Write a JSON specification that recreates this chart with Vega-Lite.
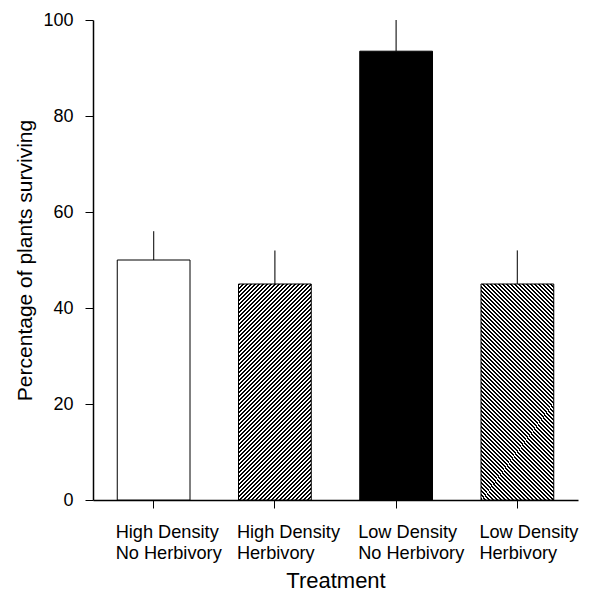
{
  "$schema": "https://vega.github.io/schema/vega-lite/v6.json",
  "width": 485,
  "height": 480,
  "autosize": "none",
  "padding": {"left": 93, "top": 20, "right": 11, "bottom": 95},
  "background": "white",
  "config": {
    "view": {"stroke": null},
    "font": "Liberation Sans",
    "axis": {
      "domainColor": "black",
      "domainWidth": 1.5,
      "tickColor": "black",
      "tickWidth": 1,
      "tickSize": 8,
      "grid": false,
      "labelColor": "black",
      "titleColor": "black",
      "labelFontSize": 18,
      "titleFontSize": 21,
      "titleFontWeight": "normal",
      "labelFont": "Liberation Sans",
      "titleFont": "Liberation Sans"
    }
  },
  "data": {
    "values": [
      {"treatment": "High Density\nNo Herbivory", "survival": 50, "upper": 56, "pattern": "open"},
      {"treatment": "High Density\nHerbivory", "survival": 45, "upper": 52, "pattern": "hatch_fwd"},
      {"treatment": "Low Density\nNo Herbivory", "survival": 93.5, "upper": 100, "pattern": "solid"},
      {"treatment": "Low Density\nHerbivory", "survival": 45, "upper": 52, "pattern": "hatch_back"}
    ]
  },
  "encoding": {
    "x": {
      "field": "treatment",
      "type": "nominal",
      "title": "Treatment",
      "scale": {
        "domain": ["High Density\nNo Herbivory", "High Density\nHerbivory", "Low Density\nNo Herbivory", "Low Density\nHerbivory"],
        "paddingInner": 0.4,
        "paddingOuter": 0.2
      },
      "axis": {
        "labelAngle": 0,
        "labelExpr": "split(datum.value, '\\n')",
        "labelAlign": "left",
        "labelOffset": -38,
        "labelFontSize": 18.2,
        "labelPadding": 15,
        "labelLineHeight": 21,
        "titleFontSize": 22,
        "titlePadding": 9
      }
    },
    "y": {
      "field": "survival",
      "type": "quantitative",
      "title": "Percentage of plants surviving",
      "scale": {"domain": [0, 100], "nice": false},
      "axis": {"values": [0, 20, 40, 60, 80, 100], "labelPadding": 12, "titlePadding": 7}
    }
  },
  "layer": [
    {
      "mark": {"type": "rule", "color": "#333333", "strokeWidth": 1.3},
      "encoding": {"y2": {"field": "upper"}}
    },
    {
      "transform": [{"filter": "datum.pattern == 'open'"}],
      "mark": {"type": "bar", "fill": "white", "stroke": "black", "strokeWidth": 1}
    },
    {
      "transform": [{"filter": "datum.pattern == 'solid'"}],
      "mark": {"type": "bar", "fill": "black", "stroke": "black", "strokeWidth": 1}
    },
    {
      "transform": [{"filter": "datum.pattern == 'hatch_fwd'"}],
      "mark": {
        "type": "bar",
        "stroke": "black",
        "strokeWidth": 1,
        "fill": {
          "gradient": "linear",
          "x1": 0, "y1": 0, "x2": 0.5602, "y2": 1.6632,
          "stops": [
{"offset":0,"color":"#000"},{"offset":0.005,"color":"#000"},{"offset":0.005,"color":"#fff"},{"offset":0.01,"color":"#fff"},
{"offset":0.01,"color":"#000"},{"offset":0.015,"color":"#000"},{"offset":0.015,"color":"#fff"},{"offset":0.02,"color":"#fff"},
{"offset":0.02,"color":"#000"},{"offset":0.025,"color":"#000"},{"offset":0.025,"color":"#fff"},{"offset":0.03,"color":"#fff"},
{"offset":0.03,"color":"#000"},{"offset":0.035,"color":"#000"},{"offset":0.035,"color":"#fff"},{"offset":0.04,"color":"#fff"},
{"offset":0.04,"color":"#000"},{"offset":0.045,"color":"#000"},{"offset":0.045,"color":"#fff"},{"offset":0.05,"color":"#fff"},
{"offset":0.05,"color":"#000"},{"offset":0.055,"color":"#000"},{"offset":0.055,"color":"#fff"},{"offset":0.06,"color":"#fff"},
{"offset":0.06,"color":"#000"},{"offset":0.065,"color":"#000"},{"offset":0.065,"color":"#fff"},{"offset":0.07,"color":"#fff"},
{"offset":0.07,"color":"#000"},{"offset":0.075,"color":"#000"},{"offset":0.075,"color":"#fff"},{"offset":0.08,"color":"#fff"},
{"offset":0.08,"color":"#000"},{"offset":0.085,"color":"#000"},{"offset":0.085,"color":"#fff"},{"offset":0.09,"color":"#fff"},
{"offset":0.09,"color":"#000"},{"offset":0.095,"color":"#000"},{"offset":0.095,"color":"#fff"},{"offset":0.1,"color":"#fff"},
{"offset":0.1,"color":"#000"},{"offset":0.105,"color":"#000"},{"offset":0.105,"color":"#fff"},{"offset":0.11,"color":"#fff"},
{"offset":0.11,"color":"#000"},{"offset":0.115,"color":"#000"},{"offset":0.115,"color":"#fff"},{"offset":0.12,"color":"#fff"},
{"offset":0.12,"color":"#000"},{"offset":0.125,"color":"#000"},{"offset":0.125,"color":"#fff"},{"offset":0.13,"color":"#fff"},
{"offset":0.13,"color":"#000"},{"offset":0.135,"color":"#000"},{"offset":0.135,"color":"#fff"},{"offset":0.14,"color":"#fff"},
{"offset":0.14,"color":"#000"},{"offset":0.145,"color":"#000"},{"offset":0.145,"color":"#fff"},{"offset":0.15,"color":"#fff"},
{"offset":0.15,"color":"#000"},{"offset":0.155,"color":"#000"},{"offset":0.155,"color":"#fff"},{"offset":0.16,"color":"#fff"},
{"offset":0.16,"color":"#000"},{"offset":0.165,"color":"#000"},{"offset":0.165,"color":"#fff"},{"offset":0.17,"color":"#fff"},
{"offset":0.17,"color":"#000"},{"offset":0.175,"color":"#000"},{"offset":0.175,"color":"#fff"},{"offset":0.18,"color":"#fff"},
{"offset":0.18,"color":"#000"},{"offset":0.185,"color":"#000"},{"offset":0.185,"color":"#fff"},{"offset":0.19,"color":"#fff"},
{"offset":0.19,"color":"#000"},{"offset":0.195,"color":"#000"},{"offset":0.195,"color":"#fff"},{"offset":0.2,"color":"#fff"},
{"offset":0.2,"color":"#000"},{"offset":0.205,"color":"#000"},{"offset":0.205,"color":"#fff"},{"offset":0.21,"color":"#fff"},
{"offset":0.21,"color":"#000"},{"offset":0.215,"color":"#000"},{"offset":0.215,"color":"#fff"},{"offset":0.22,"color":"#fff"},
{"offset":0.22,"color":"#000"},{"offset":0.225,"color":"#000"},{"offset":0.225,"color":"#fff"},{"offset":0.23,"color":"#fff"},
{"offset":0.23,"color":"#000"},{"offset":0.235,"color":"#000"},{"offset":0.235,"color":"#fff"},{"offset":0.24,"color":"#fff"},
{"offset":0.24,"color":"#000"},{"offset":0.245,"color":"#000"},{"offset":0.245,"color":"#fff"},{"offset":0.25,"color":"#fff"},
{"offset":0.25,"color":"#000"},{"offset":0.255,"color":"#000"},{"offset":0.255,"color":"#fff"},{"offset":0.26,"color":"#fff"},
{"offset":0.26,"color":"#000"},{"offset":0.265,"color":"#000"},{"offset":0.265,"color":"#fff"},{"offset":0.27,"color":"#fff"},
{"offset":0.27,"color":"#000"},{"offset":0.275,"color":"#000"},{"offset":0.275,"color":"#fff"},{"offset":0.28,"color":"#fff"},
{"offset":0.28,"color":"#000"},{"offset":0.285,"color":"#000"},{"offset":0.285,"color":"#fff"},{"offset":0.29,"color":"#fff"},
{"offset":0.29,"color":"#000"},{"offset":0.295,"color":"#000"},{"offset":0.295,"color":"#fff"},{"offset":0.3,"color":"#fff"},
{"offset":0.3,"color":"#000"},{"offset":0.305,"color":"#000"},{"offset":0.305,"color":"#fff"},{"offset":0.31,"color":"#fff"},
{"offset":0.31,"color":"#000"},{"offset":0.315,"color":"#000"},{"offset":0.315,"color":"#fff"},{"offset":0.32,"color":"#fff"},
{"offset":0.32,"color":"#000"},{"offset":0.325,"color":"#000"},{"offset":0.325,"color":"#fff"},{"offset":0.33,"color":"#fff"},
{"offset":0.33,"color":"#000"},{"offset":0.335,"color":"#000"},{"offset":0.335,"color":"#fff"},{"offset":0.34,"color":"#fff"},
{"offset":0.34,"color":"#000"},{"offset":0.345,"color":"#000"},{"offset":0.345,"color":"#fff"},{"offset":0.35,"color":"#fff"},
{"offset":0.35,"color":"#000"},{"offset":0.355,"color":"#000"},{"offset":0.355,"color":"#fff"},{"offset":0.36,"color":"#fff"},
{"offset":0.36,"color":"#000"},{"offset":0.365,"color":"#000"},{"offset":0.365,"color":"#fff"},{"offset":0.37,"color":"#fff"},
{"offset":0.37,"color":"#000"},{"offset":0.375,"color":"#000"},{"offset":0.375,"color":"#fff"},{"offset":0.38,"color":"#fff"},
{"offset":0.38,"color":"#000"},{"offset":0.385,"color":"#000"},{"offset":0.385,"color":"#fff"},{"offset":0.39,"color":"#fff"},
{"offset":0.39,"color":"#000"},{"offset":0.395,"color":"#000"},{"offset":0.395,"color":"#fff"},{"offset":0.4,"color":"#fff"},
{"offset":0.4,"color":"#000"},{"offset":0.405,"color":"#000"},{"offset":0.405,"color":"#fff"},{"offset":0.41,"color":"#fff"},
{"offset":0.41,"color":"#000"},{"offset":0.415,"color":"#000"},{"offset":0.415,"color":"#fff"},{"offset":0.42,"color":"#fff"},
{"offset":0.42,"color":"#000"},{"offset":0.425,"color":"#000"},{"offset":0.425,"color":"#fff"},{"offset":0.43,"color":"#fff"},
{"offset":0.43,"color":"#000"},{"offset":0.435,"color":"#000"},{"offset":0.435,"color":"#fff"},{"offset":0.44,"color":"#fff"},
{"offset":0.44,"color":"#000"},{"offset":0.445,"color":"#000"},{"offset":0.445,"color":"#fff"},{"offset":0.45,"color":"#fff"},
{"offset":0.45,"color":"#000"},{"offset":0.455,"color":"#000"},{"offset":0.455,"color":"#fff"},{"offset":0.46,"color":"#fff"},
{"offset":0.46,"color":"#000"},{"offset":0.465,"color":"#000"},{"offset":0.465,"color":"#fff"},{"offset":0.47,"color":"#fff"},
{"offset":0.47,"color":"#000"},{"offset":0.475,"color":"#000"},{"offset":0.475,"color":"#fff"},{"offset":0.48,"color":"#fff"},
{"offset":0.48,"color":"#000"},{"offset":0.485,"color":"#000"},{"offset":0.485,"color":"#fff"},{"offset":0.49,"color":"#fff"},
{"offset":0.49,"color":"#000"},{"offset":0.495,"color":"#000"},{"offset":0.495,"color":"#fff"},{"offset":0.5,"color":"#fff"},
{"offset":0.5,"color":"#000"},{"offset":0.505,"color":"#000"},{"offset":0.505,"color":"#fff"},{"offset":0.51,"color":"#fff"},
{"offset":0.51,"color":"#000"},{"offset":0.515,"color":"#000"},{"offset":0.515,"color":"#fff"},{"offset":0.52,"color":"#fff"},
{"offset":0.52,"color":"#000"},{"offset":0.525,"color":"#000"},{"offset":0.525,"color":"#fff"},{"offset":0.53,"color":"#fff"},
{"offset":0.53,"color":"#000"},{"offset":0.535,"color":"#000"},{"offset":0.535,"color":"#fff"},{"offset":0.54,"color":"#fff"},
{"offset":0.54,"color":"#000"},{"offset":0.545,"color":"#000"},{"offset":0.545,"color":"#fff"},{"offset":0.55,"color":"#fff"},
{"offset":0.55,"color":"#000"},{"offset":0.555,"color":"#000"},{"offset":0.555,"color":"#fff"},{"offset":0.56,"color":"#fff"},
{"offset":0.56,"color":"#000"},{"offset":0.565,"color":"#000"},{"offset":0.565,"color":"#fff"},{"offset":0.57,"color":"#fff"},
{"offset":0.57,"color":"#000"},{"offset":0.575,"color":"#000"},{"offset":0.575,"color":"#fff"},{"offset":0.58,"color":"#fff"},
{"offset":0.58,"color":"#000"},{"offset":0.585,"color":"#000"},{"offset":0.585,"color":"#fff"},{"offset":0.59,"color":"#fff"},
{"offset":0.59,"color":"#000"},{"offset":0.595,"color":"#000"},{"offset":0.595,"color":"#fff"},{"offset":0.6,"color":"#fff"},
{"offset":0.6,"color":"#000"},{"offset":0.605,"color":"#000"},{"offset":0.605,"color":"#fff"},{"offset":0.61,"color":"#fff"},
{"offset":0.61,"color":"#000"},{"offset":0.615,"color":"#000"},{"offset":0.615,"color":"#fff"},{"offset":0.62,"color":"#fff"},
{"offset":0.62,"color":"#000"},{"offset":0.625,"color":"#000"},{"offset":0.625,"color":"#fff"},{"offset":0.63,"color":"#fff"},
{"offset":0.63,"color":"#000"},{"offset":0.635,"color":"#000"},{"offset":0.635,"color":"#fff"},{"offset":0.64,"color":"#fff"},
{"offset":0.64,"color":"#000"},{"offset":0.645,"color":"#000"},{"offset":0.645,"color":"#fff"},{"offset":0.65,"color":"#fff"},
{"offset":0.65,"color":"#000"},{"offset":0.655,"color":"#000"},{"offset":0.655,"color":"#fff"},{"offset":0.66,"color":"#fff"},
{"offset":0.66,"color":"#000"},{"offset":0.665,"color":"#000"},{"offset":0.665,"color":"#fff"},{"offset":0.67,"color":"#fff"},
{"offset":0.67,"color":"#000"},{"offset":0.675,"color":"#000"},{"offset":0.675,"color":"#fff"},{"offset":0.68,"color":"#fff"},
{"offset":0.68,"color":"#000"},{"offset":0.685,"color":"#000"},{"offset":0.685,"color":"#fff"},{"offset":0.69,"color":"#fff"},
{"offset":0.69,"color":"#000"},{"offset":0.695,"color":"#000"},{"offset":0.695,"color":"#fff"},{"offset":0.7,"color":"#fff"},
{"offset":0.7,"color":"#000"},{"offset":0.705,"color":"#000"},{"offset":0.705,"color":"#fff"},{"offset":0.71,"color":"#fff"},
{"offset":0.71,"color":"#000"},{"offset":0.715,"color":"#000"},{"offset":0.715,"color":"#fff"},{"offset":0.72,"color":"#fff"},
{"offset":0.72,"color":"#000"},{"offset":0.725,"color":"#000"},{"offset":0.725,"color":"#fff"},{"offset":0.73,"color":"#fff"}
          ]
        }
      }
    },
    {
      "transform": [{"filter": "datum.pattern == 'hatch_back'"}],
      "mark": {
        "type": "bar",
        "stroke": "black",
        "strokeWidth": 1,
        "fill": {
          "gradient": "linear",
          "x1": 0, "y1": 1, "x2": 0.5602, "y2": -0.6632,
          "stops": [
{"offset":0,"color":"#000"},{"offset":0.005,"color":"#000"},{"offset":0.005,"color":"#fff"},{"offset":0.01,"color":"#fff"},
{"offset":0.01,"color":"#000"},{"offset":0.015,"color":"#000"},{"offset":0.015,"color":"#fff"},{"offset":0.02,"color":"#fff"},
{"offset":0.02,"color":"#000"},{"offset":0.025,"color":"#000"},{"offset":0.025,"color":"#fff"},{"offset":0.03,"color":"#fff"},
{"offset":0.03,"color":"#000"},{"offset":0.035,"color":"#000"},{"offset":0.035,"color":"#fff"},{"offset":0.04,"color":"#fff"},
{"offset":0.04,"color":"#000"},{"offset":0.045,"color":"#000"},{"offset":0.045,"color":"#fff"},{"offset":0.05,"color":"#fff"},
{"offset":0.05,"color":"#000"},{"offset":0.055,"color":"#000"},{"offset":0.055,"color":"#fff"},{"offset":0.06,"color":"#fff"},
{"offset":0.06,"color":"#000"},{"offset":0.065,"color":"#000"},{"offset":0.065,"color":"#fff"},{"offset":0.07,"color":"#fff"},
{"offset":0.07,"color":"#000"},{"offset":0.075,"color":"#000"},{"offset":0.075,"color":"#fff"},{"offset":0.08,"color":"#fff"},
{"offset":0.08,"color":"#000"},{"offset":0.085,"color":"#000"},{"offset":0.085,"color":"#fff"},{"offset":0.09,"color":"#fff"},
{"offset":0.09,"color":"#000"},{"offset":0.095,"color":"#000"},{"offset":0.095,"color":"#fff"},{"offset":0.1,"color":"#fff"},
{"offset":0.1,"color":"#000"},{"offset":0.105,"color":"#000"},{"offset":0.105,"color":"#fff"},{"offset":0.11,"color":"#fff"},
{"offset":0.11,"color":"#000"},{"offset":0.115,"color":"#000"},{"offset":0.115,"color":"#fff"},{"offset":0.12,"color":"#fff"},
{"offset":0.12,"color":"#000"},{"offset":0.125,"color":"#000"},{"offset":0.125,"color":"#fff"},{"offset":0.13,"color":"#fff"},
{"offset":0.13,"color":"#000"},{"offset":0.135,"color":"#000"},{"offset":0.135,"color":"#fff"},{"offset":0.14,"color":"#fff"},
{"offset":0.14,"color":"#000"},{"offset":0.145,"color":"#000"},{"offset":0.145,"color":"#fff"},{"offset":0.15,"color":"#fff"},
{"offset":0.15,"color":"#000"},{"offset":0.155,"color":"#000"},{"offset":0.155,"color":"#fff"},{"offset":0.16,"color":"#fff"},
{"offset":0.16,"color":"#000"},{"offset":0.165,"color":"#000"},{"offset":0.165,"color":"#fff"},{"offset":0.17,"color":"#fff"},
{"offset":0.17,"color":"#000"},{"offset":0.175,"color":"#000"},{"offset":0.175,"color":"#fff"},{"offset":0.18,"color":"#fff"},
{"offset":0.18,"color":"#000"},{"offset":0.185,"color":"#000"},{"offset":0.185,"color":"#fff"},{"offset":0.19,"color":"#fff"},
{"offset":0.19,"color":"#000"},{"offset":0.195,"color":"#000"},{"offset":0.195,"color":"#fff"},{"offset":0.2,"color":"#fff"},
{"offset":0.2,"color":"#000"},{"offset":0.205,"color":"#000"},{"offset":0.205,"color":"#fff"},{"offset":0.21,"color":"#fff"},
{"offset":0.21,"color":"#000"},{"offset":0.215,"color":"#000"},{"offset":0.215,"color":"#fff"},{"offset":0.22,"color":"#fff"},
{"offset":0.22,"color":"#000"},{"offset":0.225,"color":"#000"},{"offset":0.225,"color":"#fff"},{"offset":0.23,"color":"#fff"},
{"offset":0.23,"color":"#000"},{"offset":0.235,"color":"#000"},{"offset":0.235,"color":"#fff"},{"offset":0.24,"color":"#fff"},
{"offset":0.24,"color":"#000"},{"offset":0.245,"color":"#000"},{"offset":0.245,"color":"#fff"},{"offset":0.25,"color":"#fff"},
{"offset":0.25,"color":"#000"},{"offset":0.255,"color":"#000"},{"offset":0.255,"color":"#fff"},{"offset":0.26,"color":"#fff"},
{"offset":0.26,"color":"#000"},{"offset":0.265,"color":"#000"},{"offset":0.265,"color":"#fff"},{"offset":0.27,"color":"#fff"},
{"offset":0.27,"color":"#000"},{"offset":0.275,"color":"#000"},{"offset":0.275,"color":"#fff"},{"offset":0.28,"color":"#fff"},
{"offset":0.28,"color":"#000"},{"offset":0.285,"color":"#000"},{"offset":0.285,"color":"#fff"},{"offset":0.29,"color":"#fff"},
{"offset":0.29,"color":"#000"},{"offset":0.295,"color":"#000"},{"offset":0.295,"color":"#fff"},{"offset":0.3,"color":"#fff"},
{"offset":0.3,"color":"#000"},{"offset":0.305,"color":"#000"},{"offset":0.305,"color":"#fff"},{"offset":0.31,"color":"#fff"},
{"offset":0.31,"color":"#000"},{"offset":0.315,"color":"#000"},{"offset":0.315,"color":"#fff"},{"offset":0.32,"color":"#fff"},
{"offset":0.32,"color":"#000"},{"offset":0.325,"color":"#000"},{"offset":0.325,"color":"#fff"},{"offset":0.33,"color":"#fff"},
{"offset":0.33,"color":"#000"},{"offset":0.335,"color":"#000"},{"offset":0.335,"color":"#fff"},{"offset":0.34,"color":"#fff"},
{"offset":0.34,"color":"#000"},{"offset":0.345,"color":"#000"},{"offset":0.345,"color":"#fff"},{"offset":0.35,"color":"#fff"},
{"offset":0.35,"color":"#000"},{"offset":0.355,"color":"#000"},{"offset":0.355,"color":"#fff"},{"offset":0.36,"color":"#fff"},
{"offset":0.36,"color":"#000"},{"offset":0.365,"color":"#000"},{"offset":0.365,"color":"#fff"},{"offset":0.37,"color":"#fff"},
{"offset":0.37,"color":"#000"},{"offset":0.375,"color":"#000"},{"offset":0.375,"color":"#fff"},{"offset":0.38,"color":"#fff"},
{"offset":0.38,"color":"#000"},{"offset":0.385,"color":"#000"},{"offset":0.385,"color":"#fff"},{"offset":0.39,"color":"#fff"},
{"offset":0.39,"color":"#000"},{"offset":0.395,"color":"#000"},{"offset":0.395,"color":"#fff"},{"offset":0.4,"color":"#fff"},
{"offset":0.4,"color":"#000"},{"offset":0.405,"color":"#000"},{"offset":0.405,"color":"#fff"},{"offset":0.41,"color":"#fff"},
{"offset":0.41,"color":"#000"},{"offset":0.415,"color":"#000"},{"offset":0.415,"color":"#fff"},{"offset":0.42,"color":"#fff"},
{"offset":0.42,"color":"#000"},{"offset":0.425,"color":"#000"},{"offset":0.425,"color":"#fff"},{"offset":0.43,"color":"#fff"},
{"offset":0.43,"color":"#000"},{"offset":0.435,"color":"#000"},{"offset":0.435,"color":"#fff"},{"offset":0.44,"color":"#fff"},
{"offset":0.44,"color":"#000"},{"offset":0.445,"color":"#000"},{"offset":0.445,"color":"#fff"},{"offset":0.45,"color":"#fff"},
{"offset":0.45,"color":"#000"},{"offset":0.455,"color":"#000"},{"offset":0.455,"color":"#fff"},{"offset":0.46,"color":"#fff"},
{"offset":0.46,"color":"#000"},{"offset":0.465,"color":"#000"},{"offset":0.465,"color":"#fff"},{"offset":0.47,"color":"#fff"},
{"offset":0.47,"color":"#000"},{"offset":0.475,"color":"#000"},{"offset":0.475,"color":"#fff"},{"offset":0.48,"color":"#fff"},
{"offset":0.48,"color":"#000"},{"offset":0.485,"color":"#000"},{"offset":0.485,"color":"#fff"},{"offset":0.49,"color":"#fff"},
{"offset":0.49,"color":"#000"},{"offset":0.495,"color":"#000"},{"offset":0.495,"color":"#fff"},{"offset":0.5,"color":"#fff"},
{"offset":0.5,"color":"#000"},{"offset":0.505,"color":"#000"},{"offset":0.505,"color":"#fff"},{"offset":0.51,"color":"#fff"},
{"offset":0.51,"color":"#000"},{"offset":0.515,"color":"#000"},{"offset":0.515,"color":"#fff"},{"offset":0.52,"color":"#fff"},
{"offset":0.52,"color":"#000"},{"offset":0.525,"color":"#000"},{"offset":0.525,"color":"#fff"},{"offset":0.53,"color":"#fff"},
{"offset":0.53,"color":"#000"},{"offset":0.535,"color":"#000"},{"offset":0.535,"color":"#fff"},{"offset":0.54,"color":"#fff"},
{"offset":0.54,"color":"#000"},{"offset":0.545,"color":"#000"},{"offset":0.545,"color":"#fff"},{"offset":0.55,"color":"#fff"},
{"offset":0.55,"color":"#000"},{"offset":0.555,"color":"#000"},{"offset":0.555,"color":"#fff"},{"offset":0.56,"color":"#fff"},
{"offset":0.56,"color":"#000"},{"offset":0.565,"color":"#000"},{"offset":0.565,"color":"#fff"},{"offset":0.57,"color":"#fff"},
{"offset":0.57,"color":"#000"},{"offset":0.575,"color":"#000"},{"offset":0.575,"color":"#fff"},{"offset":0.58,"color":"#fff"},
{"offset":0.58,"color":"#000"},{"offset":0.585,"color":"#000"},{"offset":0.585,"color":"#fff"},{"offset":0.59,"color":"#fff"},
{"offset":0.59,"color":"#000"},{"offset":0.595,"color":"#000"},{"offset":0.595,"color":"#fff"},{"offset":0.6,"color":"#fff"},
{"offset":0.6,"color":"#000"},{"offset":0.605,"color":"#000"},{"offset":0.605,"color":"#fff"},{"offset":0.61,"color":"#fff"},
{"offset":0.61,"color":"#000"},{"offset":0.615,"color":"#000"},{"offset":0.615,"color":"#fff"},{"offset":0.62,"color":"#fff"},
{"offset":0.62,"color":"#000"},{"offset":0.625,"color":"#000"},{"offset":0.625,"color":"#fff"},{"offset":0.63,"color":"#fff"},
{"offset":0.63,"color":"#000"},{"offset":0.635,"color":"#000"},{"offset":0.635,"color":"#fff"},{"offset":0.64,"color":"#fff"},
{"offset":0.64,"color":"#000"},{"offset":0.645,"color":"#000"},{"offset":0.645,"color":"#fff"},{"offset":0.65,"color":"#fff"},
{"offset":0.65,"color":"#000"},{"offset":0.655,"color":"#000"},{"offset":0.655,"color":"#fff"},{"offset":0.66,"color":"#fff"},
{"offset":0.66,"color":"#000"},{"offset":0.665,"color":"#000"},{"offset":0.665,"color":"#fff"},{"offset":0.67,"color":"#fff"},
{"offset":0.67,"color":"#000"},{"offset":0.675,"color":"#000"},{"offset":0.675,"color":"#fff"},{"offset":0.68,"color":"#fff"},
{"offset":0.68,"color":"#000"},{"offset":0.685,"color":"#000"},{"offset":0.685,"color":"#fff"},{"offset":0.69,"color":"#fff"},
{"offset":0.69,"color":"#000"},{"offset":0.695,"color":"#000"},{"offset":0.695,"color":"#fff"},{"offset":0.7,"color":"#fff"},
{"offset":0.7,"color":"#000"},{"offset":0.705,"color":"#000"},{"offset":0.705,"color":"#fff"},{"offset":0.71,"color":"#fff"},
{"offset":0.71,"color":"#000"},{"offset":0.715,"color":"#000"},{"offset":0.715,"color":"#fff"},{"offset":0.72,"color":"#fff"},
{"offset":0.72,"color":"#000"},{"offset":0.725,"color":"#000"},{"offset":0.725,"color":"#fff"},{"offset":0.73,"color":"#fff"}
          ]
        }
      }
    }
  ]
}
